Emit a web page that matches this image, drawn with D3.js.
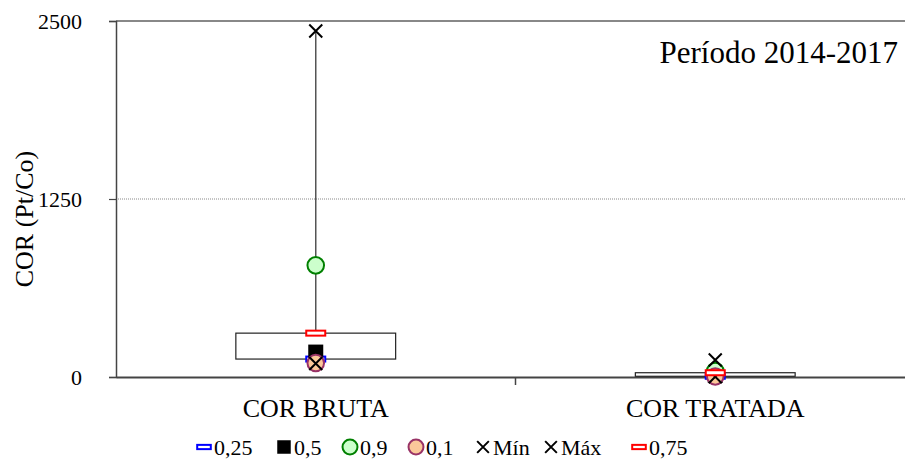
<!DOCTYPE html>
<html><head><meta charset="utf-8">
<script src="https://cdn.jsdelivr.net/npm/d3@7"></script>
<style>body{margin:0;background:#fff}svg{display:block}</style>
</head><body>
<script>
const categories = ["COR BRUTA", "COR TRATADA"];
const q25 = [126, 5];
const q50 = [175, 12];
const q90 = [784, 42];
const q10 = [98, 4];
const vMin = [95, 2];
const vMax = [2430, 119];
const q75 = [308, 30];
const yTicks = [0, 1250, 2500];
const legendLabels = ["0,25", "0,5", "0,9", "0,1", "Mín", "Máx", "0,75"];
const annotation = "Período 2014-2017";
const yTitle = "COR (Pt/Co)";

const FONT = "'Liberation Serif', 'Times New Roman', Times, serif";
const W = 905, H = 462;
const svg = d3.select("body").append("svg").attr("width", W).attr("height", H)
  .attr("font-family", FONT);
const x = d3.scaleBand().domain(categories).range([116, 915]).padding(0);
const y = d3.scaleLinear().domain([0, 2500]).range([377, 21]);

function styleText(sel, size) {
  sel.attr("font-family", FONT).attr("font-size", size).attr("fill", "#000")
    .style("font-family", FONT).style("font-size", size + "px");
}

// gridlines
svg.append("line").attr("x1", 116).attr("x2", W).attr("y1", y(1250)).attr("y2", y(1250))
  .attr("stroke", "#888").attr("stroke-width", 1).attr("stroke-dasharray", "1,1");
svg.append("line").attr("x1", 116).attr("x2", W).attr("y1", y(2500)).attr("y2", y(2500))
  .attr("stroke", "#888").attr("stroke-width", 2);

// y axis
const yAxis = svg.append("g").attr("transform", "translate(116,0)")
  .call(d3.axisLeft(y).tickValues(yTicks).tickFormat(d3.format("d")).tickSize(7).tickPadding(27));
yAxis.attr("font-family", FONT).attr("font-size", 22);
yAxis.select(".domain").attr("stroke", "#444").attr("stroke-width", 1.5);
yAxis.selectAll(".tick line").attr("stroke", "#444").attr("stroke-width", 1.2);
styleText(yAxis.selectAll("text"), 22);

// x axis
const xAxis = svg.append("g").attr("transform", "translate(0,377)")
  .call(d3.axisBottom(x).tickSize(0).tickPadding(0));
xAxis.attr("font-family", FONT).attr("font-size", 26);
xAxis.select(".domain").attr("stroke", "#444").attr("stroke-width", 2);
styleText(xAxis.selectAll("text").attr("y", 40).attr("dy", 0), 26);
svg.append("line").attr("x1", x(categories[1])).attr("x2", x(categories[1]))
  .attr("y1", 377).attr("y2", 385).attr("stroke", "#444").attr("stroke-width", 1.5);

styleText(svg.append("text").attr("transform", "translate(33,219) rotate(-90)")
  .attr("text-anchor", "middle").text(yTitle), 26);

styleText(svg.append("text").attr("x", 898).attr("y", 63).attr("text-anchor", "end")
  .text(annotation), 31);

const cx = i => x(categories[i]) + x.bandwidth() / 2;
const boxW = x.bandwidth() * 0.4;

categories.forEach((c, i) => {
  svg.append("rect").attr("x", cx(i) - boxW / 2).attr("y", y(q75[i]))
    .attr("width", boxW).attr("height", y(q25[i]) - y(q75[i]))
    .attr("fill", "#fff").attr("stroke", "#222").attr("stroke-width", 1.2);
  svg.append("line").attr("x1", cx(i)).attr("x2", cx(i)).attr("y1", y(q75[i])).attr("y2", y(vMax[i]))
    .attr("stroke", "#555").attr("stroke-width", 1.5);
});

function dash(g, px, py, color, s, wide) {
  const w = wide ? 19 : 16;
  g.append("rect").attr("x", px - w / 2 * s).attr("y", py - 2.5 * s).attr("width", w * s).attr("height", 5 * s)
    .attr("fill", "#fff").attr("stroke", color).attr("stroke-width", 2);
}
function square(g, px, py, s) {
  g.append("rect").attr("x", px - 7.5 * s).attr("y", py - 7.5 * s).attr("width", 15 * s).attr("height", 15 * s)
    .attr("fill", "#000");
}
function circle(g, px, py, fill, stroke, s) {
  g.append("circle").attr("cx", px).attr("cy", py).attr("r", 8.3 * s)
    .attr("fill", fill).attr("stroke", stroke).attr("stroke-width", 2);
}
function cross(g, px, py, s) {
  const d = 6.5 * s;
  g.append("path").attr("d", `M${px - d},${py - d}L${px + d},${py + d}M${px - d},${py + d}L${px + d},${py - d}`)
    .attr("stroke", "#000").attr("stroke-width", 2).attr("fill", "none");
}

const drawers = [
  (g, px, py, s, w) => dash(g, px, py, "#0000ff", s, w),
  (g, px, py, s) => square(g, px, py, s),
  (g, px, py, s) => circle(g, px, py, "#ccffcc", "#008000", s),
  (g, px, py, s) => circle(g, px, py, "#fbc89a", "#993366", s),
  (g, px, py, s) => cross(g, px, py, s),
  (g, px, py, s) => cross(g, px, py, s),
  (g, px, py, s, w) => dash(g, px, py, "#ff0000", s, w)
];
const seriesVals = [q25, q50, q90, q10, vMin, vMax, q75];
const marks = svg.append("g");
categories.forEach((c, i) => {
  seriesVals.forEach((vals, k) => drawers[k](marks, cx(i), y(vals[i]), 1, true));
});

// legend
const legX = [204, 284, 350, 416, 483, 551, 639];
const leg = svg.append("g");
legendLabels.forEach((lab, k) => {
  const s = (k === 0 || k === 6) ? 0.85 : 0.9;
  drawers[k](leg, legX[k], 447, s, false);
  styleText(leg.append("text").attr("x", legX[k] + 10).attr("y", 455).text(lab), 22);
});
</script>
</body></html>
